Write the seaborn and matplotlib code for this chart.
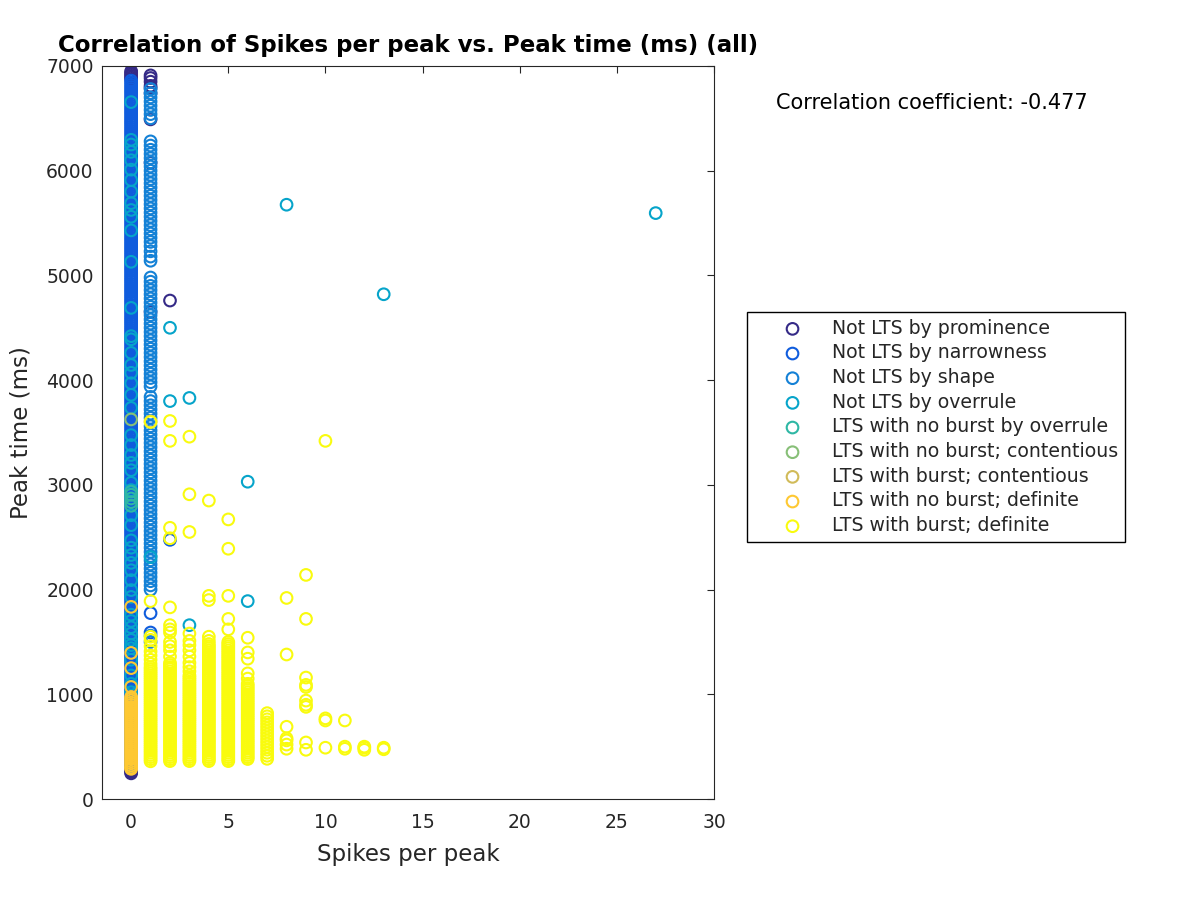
import matplotlib
matplotlib.use("Agg")
import matplotlib.pyplot as plt
import seaborn as sns
import pandas as pd

# ---------------- data ----------------
categories = [
    "Not LTS by prominence",
    "Not LTS by narrowness",
    "Not LTS by shape",
    "Not LTS by overrule",
    "LTS with no burst by overrule",
    "LTS with no burst; contentious",
    "LTS with burst; contentious",
    "LTS with no burst; definite",
    "LTS with burst; definite",
]
colors = ["#352A87", "#0F5CDD", "#1481D6", "#06A4CA", "#2EB7A4",
          "#87BF77", "#D1BB59", "#FEC832", "#F9FB0E"]

# Not LTS by prominence
prom_x = [0]*10 + [1]*9 + [2]
prom_y = [6950, 6935, 6920, 6905, 6890, 6875, 245, 258, 270, 282,
          6910, 6885, 6850, 6810, 6790, 6740, 6490, 6075, 4650,
          4760]

# Not LTS by narrowness (dense band at x = 0)
narrow_y0 = [
    300, 320, 341, 360, 380, 400, 420, 441, 460, 480, 500, 520, 541, 560, 580,
    600, 620, 641, 660, 680, 700, 720, 741, 760, 780, 800, 820, 841, 860, 880,
    900, 920, 941, 960, 980, 1000, 1020, 1041, 1060, 1080, 1100, 1120, 1141, 1160, 1180,
    1200, 1220, 1241, 1260, 1280, 1300, 1320, 1341, 1360, 1380, 1400, 1420, 1441, 1460, 1480,
    1500, 1520, 1541, 1560, 1580, 1600, 1620, 1641, 1660, 1680, 1700, 1720, 1741, 1760, 1780,
    1800, 1820, 1841, 1860, 1880, 1900, 1920, 1941, 1960, 1980, 2000, 2020, 2041, 2060, 2080,
    2100, 2120, 2141, 2160, 2180, 2200, 2220, 2241, 2260, 2280, 2300, 2320, 2341, 2360, 2380,
    2400, 2420, 2441, 2460, 2480, 2500, 2520, 2541, 2560, 2580, 2600, 2620, 2641, 2660, 2680,
    2700, 2720, 2741, 2760, 2780, 2800, 2820, 2841, 2860, 2880, 2900, 2920, 2941, 2960, 2980,
    3000, 3020, 3041, 3060, 3080, 3100, 3120, 3141, 3160, 3180, 3200, 3220, 3241, 3260, 3280,
    3300, 3320, 3341, 3360, 3380, 3400, 3420, 3441, 3460, 3480, 3500, 3520, 3541, 3560, 3580,
    3600, 3620, 3641, 3660, 3680, 3700, 3720, 3741, 3760, 3780, 3800, 3820, 3841, 3860, 3880,
    3900, 3920, 3941, 3960, 3980, 4000, 4020, 4041, 4060, 4080, 4100, 4120, 4141, 4160, 4180,
    4200, 4220, 4241, 4260, 4280, 4300, 4320, 4341, 4360, 4380, 4400, 4420, 4441, 4460, 4480,
    4500, 4520, 4541, 4560, 4580, 4600, 4620, 4641, 4660, 4680, 4700, 4720, 4741, 4760, 4780,
    4800, 4820, 4841, 4860, 4880, 4900, 4920, 4941, 4960, 4980, 5000, 5020, 5041, 5060, 5080,
    5100, 5120, 5141, 5160, 5180, 5200, 5220, 5241, 5260, 5280, 5300, 5320, 5341, 5360, 5380,
    5400, 5420, 5441, 5460, 5480, 5500, 5520, 5541, 5560, 5580, 5600, 5620, 5641, 5660, 5680,
    5700, 5720, 5741, 5760, 5780, 5800, 5820, 5841, 5860, 5880, 5900, 5920, 5941, 5960, 5980,
    6000, 6020, 6041, 6060, 6080, 6100, 6120, 6141, 6160, 6180, 6200, 6220, 6241, 6260, 6280,
    6300, 6320, 6341, 6360, 6380, 6400, 6420, 6441, 6460, 6480, 6500, 6520, 6541, 6560, 6580,
    6600, 6620, 6641, 6660, 6680, 6700, 6720, 6741, 6760, 6780, 6800, 6820, 6841, 6860]
narrow_x_other = [1, 1, 2]
narrow_y_other = [1775, 1590, 2475]

# Not LTS by shape (x = 1)
shape_y1 = [6780, 6740, 6700, 6660, 6620, 6580, 6540, 6500,
            6280, 6240, 6200, 6160, 6120, 6080, 6040, 6000, 5960, 5920, 5880, 5840, 5800,
            5760, 5720, 5680, 5640, 5600, 5560, 5520, 5480, 5440, 5400, 5360, 5320, 5280,
            5230, 5180, 5140,
            4980, 4940, 4900, 4860, 4820, 4780, 4740, 4700, 4660, 4620, 4580, 4540, 4500,
            4460, 4420, 4380, 4340, 4300, 4260, 4220, 4180, 4140, 4100, 4060, 4020, 3980, 3940,
            3840, 3800, 3760, 3720, 3680, 3640, 3560, 3520, 3480, 3440, 3400, 3360, 3320,
            3280, 3240, 3200, 3160, 3120, 3080, 3040, 3000, 2960, 2920, 2880, 2840, 2800,
            2760, 2720, 2680, 2640, 2600, 2560, 2520, 2480, 2440, 2400, 2360, 2320, 2280,
            2240, 2200, 2160, 2120, 2080, 2040, 2000, 1560, 1500]

# Not LTS by overrule
over_y0 = [6655, 6295, 6250, 6180, 6100, 6010, 5910, 5800, 5690, 5625, 5560, 5430, 5130,
           4690, 4420, 4390, 4260, 4145, 4070, 3970, 3860, 3735, 3475, 3380, 3285, 3210,
           3140, 3020, 2950, 2710, 2615, 2470, 2400, 2330, 2255, 2185, 2090, 1995, 1930,
           1760, 1700, 1640, 1580, 1520, 1470, 1440, 1330, 1180, 1100, 1020]
over_x_other = [1, 2, 2, 3, 3, 6, 6, 8, 13, 27]
over_y_other = [2310, 4500, 3800, 3830, 1660, 3030, 1890, 5675, 4820, 5595]

# LTS with no burst by overrule
nbover_x = [0, 0, 0, 0, 0]
nbover_y = [2800, 2835, 2870, 2905, 2935]

# LTS with no burst; contentious
nbcont_x = [0]
nbcont_y = [3625]

# LTS with burst; contentious
bcont_x = [1]
bcont_y = [3605]

# LTS with no burst; definite (x = 0)
nbdef_y0 = [1835, 1395, 1250, 1070,
            975, 960, 941, 920, 900, 880, 860, 841, 820, 800, 780, 760, 741, 720, 700,
            680, 660, 641, 620, 600, 580, 560, 541, 520, 500, 480, 460, 441, 420, 400,
            380, 360, 341, 320, 300, 288]

# LTS with burst; definite
bdef_y1 = [3600, 1890, 1550, 1520, 1460, 1410, 1370, 1330, 1290,
           1260, 1241, 1220, 1200, 1180, 1160, 1141, 1120, 1100, 1080, 1060, 1041, 1020,
           1000, 980, 960, 941, 920, 900, 880, 860, 841, 820, 800, 780, 760, 741, 720,
           700, 680, 660, 641, 620, 600, 580, 560, 541, 520, 500, 480, 460, 441, 420,
           400, 380, 360]
bdef_y2 = [3610, 3420, 2590, 2490, 1830, 1660, 1620, 1590, 1500, 1460, 1420, 1360,
           1300, 1280, 1260, 1241, 1220, 1200, 1180, 1160, 1141, 1120, 1100, 1080, 1060,
           1041, 1020, 1000, 980, 960, 941, 920, 900, 880, 860, 841, 820, 800, 780, 760,
           741, 720, 700, 680, 660, 641, 620, 600, 580, 560, 541, 520, 500, 480, 460,
           441, 420, 400, 380, 362]
bdef_y3 = [3460, 2910, 2550, 1580, 1510, 1470, 1420, 1360, 1300, 1260, 1220,
           1180, 1160, 1141, 1120, 1100, 1080, 1060, 1041, 1020, 1000, 980, 960, 941,
           920, 900, 880, 860, 841, 820, 800, 780, 760, 741, 720, 700, 680, 660, 641,
           620, 600, 580, 560, 541, 520, 500, 480, 460, 441, 420, 400, 380, 362]
bdef_y4 = [2850, 1940, 1900, 1550, 1510,
           1480, 1460, 1441, 1420, 1400, 1380, 1360, 1341, 1320, 1300, 1280, 1260, 1241,
           1220, 1200, 1180, 1160, 1141, 1120, 1100, 1080, 1060, 1041, 1020, 1000, 980,
           960, 941, 920, 900, 880, 860, 841, 820, 800, 780, 760, 741, 720, 700, 680,
           660, 641, 620, 600, 580, 560, 541, 520, 500, 480, 460, 441, 420, 400, 380, 362]
bdef_y5 = [2670, 2390, 1940, 1720, 1620,
           1500, 1480, 1460, 1441, 1420, 1400, 1380, 1360, 1341, 1320, 1300, 1280, 1260,
           1241, 1220, 1200, 1180, 1160, 1141, 1120, 1100, 1080, 1060, 1041, 1020, 1000,
           980, 960, 941, 920, 900, 880, 860, 841, 820, 800, 780, 760, 741, 720, 700,
           680, 660, 641, 620, 600, 580, 560, 541, 520, 500, 480, 460, 441, 420, 400,
           380, 362]
bdef_y6 = [1540, 1400, 1340, 1200, 1150,
           1100, 1080, 1060, 1041, 1020, 1000, 980, 960, 941, 920, 900, 880, 860, 841,
           820, 800, 780, 760, 741, 720, 700, 680, 660, 641, 620, 600, 580, 560, 541,
           520, 500, 480, 460, 441, 420, 400, 382]
bdef_y7 = [820, 790, 761, 732, 703, 674, 645, 616, 587, 558, 529, 500, 471, 442, 413, 384]
bdef_x_other = [8, 8, 8, 8, 8, 8, 8,
                9, 9, 9, 9, 9, 9, 9, 9, 9, 9,
                10, 10, 10, 10,
                11, 11, 11,
                12, 12, 12,
                13, 13]
bdef_y_other = [1920, 1380, 690, 580, 560, 520, 480,
                2140, 1720, 1160, 1090, 1070, 940, 900, 880, 540, 470,
                3420, 770, 750, 490,
                750, 500, 480,
                500, 490, 470,
                490, 475]

corr_text = "Correlation coefficient: -0.477"

# ---------------- assemble table ----------------
rows = []
def add(cat, xs, ys):
    for xv, yv in zip(xs, ys):
        rows.append((xv, yv, cat))

add(categories[0], prom_x, prom_y)
add(categories[1], [0]*len(narrow_y0), narrow_y0)
add(categories[1], narrow_x_other, narrow_y_other)
add(categories[2], [1]*len(shape_y1), shape_y1)
add(categories[3], [0]*len(over_y0), over_y0)
add(categories[3], over_x_other, over_y_other)
add(categories[4], nbover_x, nbover_y)
add(categories[5], nbcont_x, nbcont_y)
add(categories[6], bcont_x, bcont_y)
add(categories[7], [0]*len(nbdef_y0), nbdef_y0)
for xv, ys in [(1, bdef_y1), (2, bdef_y2), (3, bdef_y3), (4, bdef_y4),
               (5, bdef_y5), (6, bdef_y6), (7, bdef_y7)]:
    add(categories[8], [xv]*len(ys), ys)
add(categories[8], bdef_x_other, bdef_y_other)

df = pd.DataFrame(rows, columns=["Spikes per peak", "Peak time (ms)", "Category"])

# ---------------- plot ----------------
sns.set_theme(style="white")
plt.rcParams["font.family"] = ["DejaVu Sans"]

fig = plt.figure(figsize=(12, 9), dpi=100)
ax = fig.add_axes([0.085, 0.1122, 0.51, 0.8145])

for cat, col in zip(categories, colors):
    sub = df[df["Category"] == cat]
    sns.scatterplot(data=sub, x="Spikes per peak", y="Peak time (ms)", ax=ax,
                    marker="o", s=70, color=col, facecolor="none", edgecolor=col,
                    linewidth=1.5, label=cat, legend=False, clip_on=True)

ax.set_xlim(-1.5, 30)
ax.set_ylim(0, 7000)
ax.set_xticks(range(0, 31, 5))
ax.set_yticks(range(0, 7001, 1000))

dark = "#262626"
for sp in ax.spines.values():
    sp.set_visible(True)
    sp.set_color(dark)
    sp.set_linewidth(0.8)
ax.tick_params(direction="in", top=True, right=True, length=5, width=0.8,
               colors=dark, labelsize=13.5)
ax.tick_params(axis="x", pad=10)
ax.tick_params(axis="y", pad=6)

ax.set_xlabel("Spikes per peak", fontsize=16.5, color=dark, labelpad=8)
ax.set_ylabel("Peak time (ms)", fontsize=16.5, color=dark, labelpad=10)
ax.set_title("Correlation of Spikes per peak vs. Peak time (ms) (all)",
             fontsize=16.5, fontweight="bold", color="black", pad=10)

handles, labels = ax.get_legend_handles_labels()
fig.legend(handles, labels, loc="upper left", bbox_to_anchor=(0.6225, 0.6533),
           bbox_transform=fig.transFigure, borderaxespad=0, frameon=True,
           fancybox=False, edgecolor="black", framealpha=1, fontsize=13.6,
           borderpad=0.36, labelspacing=0.3, handlelength=4.1, handletextpad=0.05,
           scatterpoints=1)

fig.text(0.6467, 0.8856, corr_text, fontsize=15, color="black",
         ha="left", va="center")

fig.savefig("out.png", dpi=100)
